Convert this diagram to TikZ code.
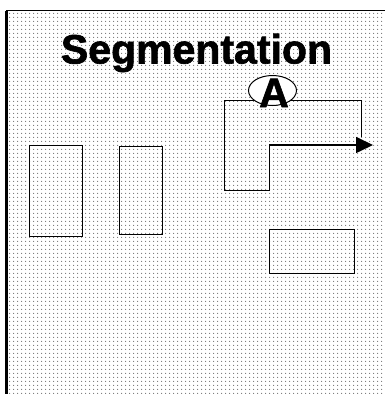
\documentclass[tikz,border=0pt]{standalone}
\usepackage{fontspec}
\setmainfont{Liberation Sans}
\newfontfamily\heavyfont[FakeBold=1.6]{Liberation Sans Bold}
\usetikzlibrary{shapes.geometric,arrows.meta,patterns.meta}
\tikzdeclarepattern{name=fielddots, type=uncolored,
  bounding box={(0pt,0pt) and (4pt,4pt)}, tile size={(4pt,4pt)},
  code={\fill (2pt,2pt) circle (0.75pt);}}
\begin{document}
\begin{tikzpicture}[x=1pt,y=-1pt,
  frame/.style={line width=1.5pt},
  box/.style={draw, line width=0.9pt, inner sep=0pt},
  flow/.style={line width=0.9pt},
  flowarrow/.style={line width=1.6pt, -{Triangle[length=17pt,width=16pt]}},
  tag/.style={ellipse, draw, fill=white, line width=1pt, minimum width=48pt, minimum height=30pt, inner sep=0pt},
  title/.style={font=\fontsize{41}{45}\selectfont\heavyfont, anchor=base, inner sep=0pt},
  tagtext/.style={font=\fontsize{41}{45}\selectfont\heavyfont, anchor=base, inner sep=0pt}]
\useasboundingbox (0,0) rectangle (385,394);
\fill[white] (0,0) rectangle (385,394);
\begin{scope}
\clip (0,0) rectangle (385,394);
\fill[pattern=fielddots, pattern color=black!55] (6.5,10.5) rectangle (390,400);
\draw[frame] (6.5,400) -- (6.5,10.5) -- (390,10.5);
\draw[line width=2.4pt] (6.5,10.5) -- (6.5,400);
\end{scope}
\node[title] (title) at (196.5,63.5) {Segmentation};
\node[box, minimum width=53pt, minimum height=91pt] (r1) at (55.5,190.5) {};
\node[box, minimum width=43pt, minimum height=88pt] (r2) at (140.5,190) {};
\node[box, minimum width=85pt, minimum height=44pt] (r3) at (311.5,251) {};
\coordinate (p1) at (224,100);
\coordinate (p2) at (361,100);
\coordinate (p3) at (361,137);
\coordinate (p4) at (224,190);
\coordinate (p5) at (269,190);
\coordinate (p6) at (269,145);
\coordinate (tip) at (373,145);
\draw[flow] (p3) -- (p2) -- (p1) -- (p4) -- (p5) -- (p6);
\draw[flowarrow] (p6) -- (tip);
\node[tag] (ell) at (272.5,90.5) {};
\node[tagtext] (A) at (274,107) {A};
\end{tikzpicture}
\end{document}
